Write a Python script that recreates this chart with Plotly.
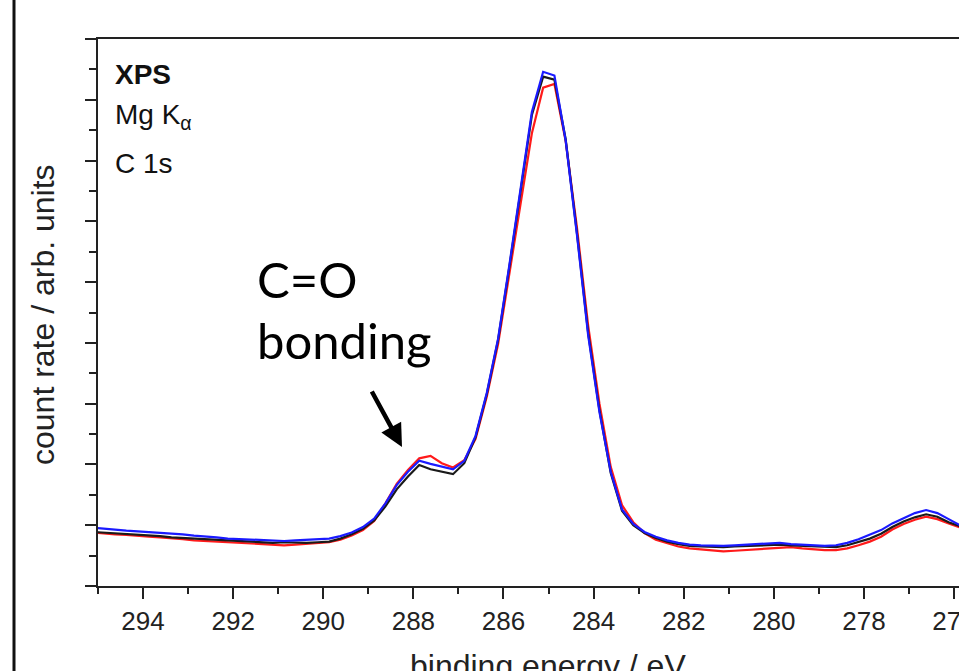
import plotly.graph_objects as go

# ---------------- data ----------------
energy = [295.12, 294.87, 294.62, 294.37, 294.12, 293.87, 293.62, 293.37, 293.12, 292.87,
          292.62, 292.37, 292.12, 291.87, 291.62, 291.37, 291.12, 290.87, 290.62, 290.37,
          290.12, 289.87, 289.62,
          289.37, 289.12, 288.87, 288.62, 288.37, 288.12, 287.87, 287.62, 287.37, 287.12,
          286.87, 286.62, 286.37, 286.12, 285.87, 285.62, 285.37, 285.12, 284.87, 284.62,
          284.37, 284.12, 283.87, 283.62,
          283.37, 283.12, 282.87, 282.62, 282.37, 282.12, 281.87, 281.62, 281.37, 281.12,
          280.87, 280.62, 280.37, 280.12, 279.87, 279.62, 279.37, 279.12, 278.87, 278.62,
          278.37, 278.12, 277.87, 277.62, 277.37, 277.12, 276.87, 276.62, 276.37, 276.12,
          275.87, 275.62]

blue = [0.96, 0.94, 0.92, 0.91, 0.90, 0.89, 0.88, 0.86, 0.85, 0.83, 0.82, 0.80, 0.78, 0.77,
        0.76, 0.76, 0.75, 0.74, 0.75, 0.76, 0.77, 0.78, 0.82,
        0.88, 0.97, 1.11, 1.36, 1.66, 1.88, 2.06, 2.01, 1.96, 1.92, 2.06, 2.47, 3.18, 4.07,
        5.28, 6.55, 7.80, 8.46, 8.40, 7.33, 5.78, 4.12, 2.86, 1.88,
        1.26, 1.02, 0.89, 0.81, 0.75, 0.71, 0.68, 0.67, 0.66, 0.66, 0.67, 0.68, 0.70, 0.71,
        0.71, 0.69, 0.68, 0.67, 0.66, 0.67, 0.71, 0.77, 0.84, 0.92, 1.03, 1.12, 1.20, 1.25,
        1.20, 1.10, 1.00, 0.92]

black = [0.89, 0.88, 0.86, 0.85, 0.84, 0.83, 0.82, 0.80, 0.79, 0.77, 0.76, 0.75, 0.74, 0.73,
         0.72, 0.72, 0.71, 0.72, 0.71, 0.71, 0.72, 0.73, 0.78,
         0.85, 0.94, 1.08, 1.31, 1.59, 1.80, 1.99, 1.92, 1.88, 1.84, 2.02, 2.45, 3.16, 4.05,
         5.25, 6.51, 7.75, 8.38, 8.33, 7.35, 5.81, 4.16, 2.89, 1.86,
         1.24, 1.00, 0.87, 0.79, 0.73, 0.69, 0.66, 0.65, 0.64, 0.64, 0.65, 0.66, 0.66, 0.67,
         0.68, 0.67, 0.66, 0.65, 0.64, 0.64, 0.67, 0.72, 0.78, 0.86, 0.97, 1.06, 1.13, 1.18,
         1.14, 1.05, 0.98, 0.92]

red = [0.88, 0.86, 0.85, 0.84, 0.82, 0.81, 0.80, 0.79, 0.77, 0.75, 0.74, 0.72, 0.71, 0.71,
       0.70, 0.69, 0.68, 0.67, 0.68, 0.69, 0.70, 0.72, 0.76,
       0.83, 0.92, 1.07, 1.36, 1.68, 1.91, 2.10, 2.14, 2.02, 1.95, 2.07, 2.42, 3.12, 3.98,
       5.12, 6.32, 7.45, 8.20, 8.26, 7.32, 5.90, 4.28, 3.00, 1.96,
       1.33, 1.05, 0.87, 0.76, 0.70, 0.65, 0.62, 0.60, 0.58, 0.57, 0.58, 0.59, 0.60, 0.62,
       0.63, 0.64, 0.62, 0.60, 0.59, 0.59, 0.62, 0.67, 0.73, 0.81, 0.93, 1.02, 1.09, 1.14,
       1.10, 1.03, 0.96, 0.90]

x_title = "binding energy / eV"
y_title = "count rate / arb. units"
label_lines = ["<b>XPS</b>", "Mg K<sub>α</sub>", "C 1s"]
note_lines = ["C=O", "bonding"]

# ---------------- layout helpers ----------------
W, H = 959, 671
L, R, T, B = 98, 0, 39, 85
PW, PH = W - L - R, H - T - B


def px(x):
    return (x - L) / PW


def py(y):
    return (H - B - y) / PH


AX = "#222222"
FONT = "Liberation Sans, Arial, sans-serif"

fig = go.Figure()
for ys, col in [(red, "#ff1a1a"), (black, "#1a1a1a"), (blue, "#1a1aff")]:
    fig.add_trace(go.Scatter(x=energy, y=ys, mode="lines",
                             line=dict(color=col, width=2.2), showlegend=False,
                             hoverinfo="skip"))

fig.update_layout(
    width=W, height=H,
    margin=dict(l=L, r=R, t=T, b=B, autoexpand=False),
    paper_bgcolor="white", plot_bgcolor="white",
    font=dict(family=FONT, color=AX),
    xaxis=dict(range=[295.0, 275.89], tickmode="linear", tick0=0, dtick=2,
               ticks="outside", ticklen=11, tickwidth=2, tickcolor=AX,
               showline=True, linewidth=2, linecolor=AX, mirror=True,
               showgrid=False, zeroline=False, ticklabeloverflow="allow",
               automargin=False,
               tickfont=dict(size=26, family=FONT, color=AX),
               minor=dict(dtick=1, ticks="outside", ticklen=6, tickwidth=2,
                          tickcolor=AX, showgrid=False)),
    yaxis=dict(range=[0, 9], tickmode="linear", tick0=0, dtick=1,
               ticks="outside", ticklen=11, tickwidth=2, tickcolor=AX,
               showline=True, linewidth=2, linecolor=AX, mirror=False,
               showgrid=False, zeroline=False, showticklabels=False,
               automargin=False,
               minor=dict(dtick=0.5, ticks="outside", ticklen=7, tickwidth=2,
                          tickcolor=AX, showgrid=False)),
)

# left border line of the frame
fig.add_shape(type="line", xref="paper", yref="paper",
              x0=px(14), x1=px(14), y0=py(-5), y1=py(H + 5),
              line=dict(color="#111111", width=3))

ann = []
for txt, yc in zip(label_lines, [74, 117, 163]):
    ann.append(dict(text=txt, x=px(113), y=py(yc), xref="paper", yref="paper",
                    xanchor="left", yanchor="middle", showarrow=False,
                    font=dict(size=28, family=FONT, color="#111111")))
for txt, yc in zip(note_lines, [279, 340]):
    ann.append(dict(text=txt, x=px(255), y=py(yc), xref="paper", yref="paper",
                    xanchor="left", yanchor="middle", showarrow=False,
                    font=dict(size=49, family="Lato, sans-serif", color="#000000")))
# arrow
ann.append(dict(text="", x=px(402), y=py(447), xref="paper", yref="paper",
                ax=-31, ay=-57, showarrow=True, arrowhead=2, arrowsize=1,
                arrowwidth=4.5, arrowcolor="#000000", standoff=0))
# axis titles
ann.append(dict(text=x_title, x=px(548), y=py(646), xref="paper", yref="paper",
                xanchor="center", yanchor="top", showarrow=False,
                font=dict(size=32, family=FONT, color=AX)))
ann.append(dict(text=y_title, x=px(43), y=py(315), xref="paper", yref="paper",
                xanchor="center", yanchor="middle", textangle=-90, showarrow=False,
                font=dict(size=32, family=FONT, color=AX)))
fig.update_layout(annotations=ann)

fig.write_html("out.html")
